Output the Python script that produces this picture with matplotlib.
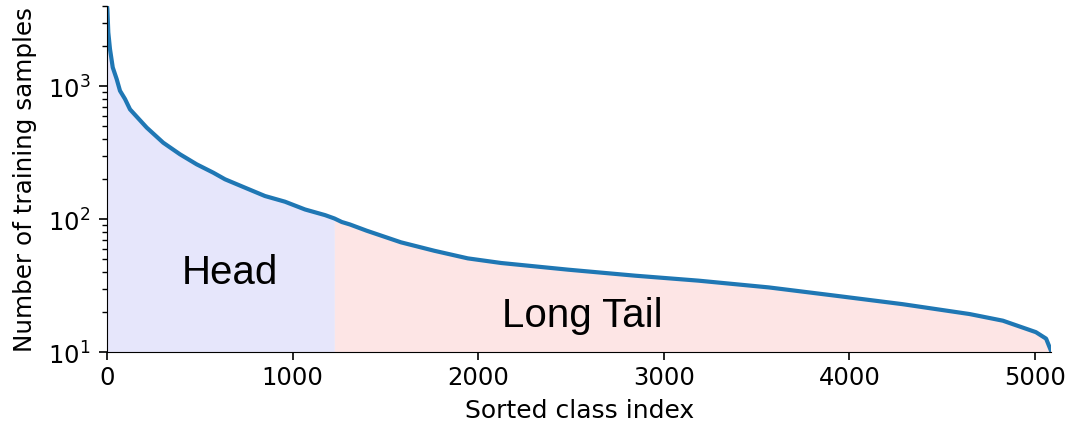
import matplotlib
matplotlib.use("Agg")
import matplotlib.pyplot as plt
import numpy as np

# sorted class index -> number of training samples
class_idx = [0, 2, 7, 16, 31, 52, 70, 97, 124, 214, 303, 393, 483, 573, 636,
             744, 851, 959, 1067, 1175, 1225, 1265, 1309, 1399, 1584, 1764,
             1944, 2124, 2485, 2845, 3187, 3566, 3926, 4286, 4647, 4827, 5005,
             5060, 5089]
n_samples = [4000, 3800, 2530, 1900, 1380, 1130, 922, 799, 668, 487, 375, 307,
             258, 223, 199, 172, 149, 135, 118, 107, 101, 95, 91, 81.7, 66.8,
             57.7, 50.6, 46.7, 41.6, 37.5, 34.4, 30.6, 26.5, 22.9, 19.3, 17.2,
             14.1, 12.6, 10]
head_end = 1225
n_classes = 5089

x = np.array(class_idx)
y = np.array(n_samples)

fig = plt.figure(figsize=(10.7, 4.27), dpi=100)
ax = fig.add_axes([0.1, 0.1733, 0.8827, 0.8103])

head = x <= head_end
tail = x >= head_end
ax.fill_between(x[head], 10, y[head], color='#e6e6fb', lw=0)
ax.fill_between(x[tail], 10, y[tail], color='#fde5e5', lw=0)
ax.plot(x, y, color='#1f77b4', lw=3)

ax.set_yscale('log')
ax.set_ylim(10, 4000)
ax.set_xlim(0, n_classes)
ax.set_xticks([0, 1000, 2000, 3000, 4000, 5000])
for s in ['top', 'right']:
    ax.spines[s].set_visible(False)
ax.tick_params(labelsize=17.5, length=6, width=1.2)
ax.tick_params(axis='y', pad=6)
ax.tick_params(which='minor', length=3.5, width=1)

ax.set_xlabel('Sorted class index', fontsize=18, labelpad=6)
ax.set_ylabel('Number of training samples', fontsize=17.7, labelpad=8)

ax.text(660, 40, 'Head', fontsize=29, family='Liberation Sans', ha='center', va='center')
ax.text(2560, 19, 'Long Tail', fontsize=29, family='Liberation Sans', ha='center', va='center')

fig.savefig('out.png', dpi=100)
